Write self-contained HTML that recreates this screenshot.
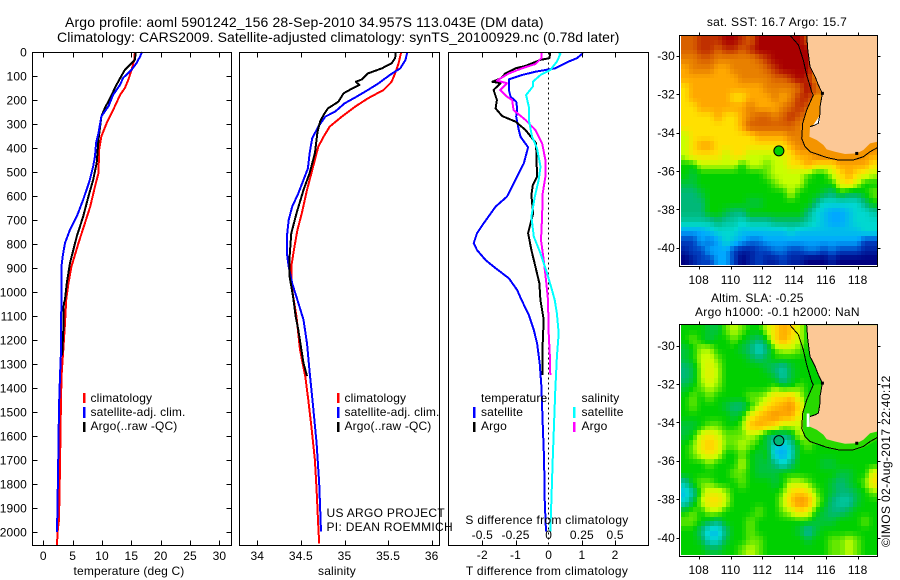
<!DOCTYPE html>
<html lang="en">
<head>
<meta charset="utf-8">
<title>Argo profile 5901242_156</title>
<style>
html,body{margin:0;padding:0;background:#fff;}
svg{display:block;}
text{font-family:"Liberation Sans",Arial,sans-serif;font-size:12px;fill:#000;letter-spacing:0.15px;}
.title{font-size:14px;letter-spacing:0.14px;}
.title2{font-size:14px;letter-spacing:0.08px;}
.wide{letter-spacing:0.3px;}
.wider{letter-spacing:0.36px;}
</style>
</head>
<body>
<svg id="chart" xmlns="http://www.w3.org/2000/svg" width="900" height="580" viewBox="0 0 900 580">
<rect x="0" y="0" width="900" height="580" fill="#fff"/>
<text class="title" x="65" y="27">Argo profile: aoml 5901242_156 28-Sep-2010 34.957S 113.043E (DM data)</text>
<text class="title2" x="57" y="42">Climatology: CARS2009. Satellite-adjusted climatology: synTS_20100929.nc (0.78d later)</text>

<g id="layer-series"></g>
<g id="layer-maps"></g>

<text x="129" y="575" text-anchor="middle">temperature (deg C)</text>
<text x="337" y="575" text-anchor="middle">salinity</text>
<text class="wide" x="547" y="575" text-anchor="middle">T difference from climatology</text>
<text class="wide" x="547" y="524" text-anchor="middle">S difference from climatology</text>

<g>
<rect x="83" y="393" width="2.5" height="10" fill="#f00"/>
<rect x="83" y="407" width="2.5" height="11" fill="#00f"/>
<rect x="83" y="422" width="2.5" height="10" fill="#000"/>
<text x="90.5" y="402">climatology</text>
<text x="90.5" y="416">satellite-adj. clim.</text>
<text x="90.5" y="430">Argo(..raw -QC)</text>
</g>
<g>
<rect x="337" y="393" width="2.5" height="10" fill="#f00"/>
<rect x="337" y="407" width="2.5" height="11" fill="#00f"/>
<rect x="337" y="422" width="2.5" height="10" fill="#000"/>
<text x="344.5" y="402">climatology</text>
<text x="344.5" y="416">satellite-adj. clim.</text>
<text x="344.5" y="430">Argo(..raw -QC)</text>
</g>
<g>
<text x="481" y="402">temperature</text>
<rect x="473" y="407" width="2.5" height="11" fill="#00f"/>
<text x="481" y="416">satellite</text>
<rect x="473" y="422" width="2.5" height="10" fill="#000"/>
<text x="481" y="430">Argo</text>
<text x="581.5" y="402">salinity</text>
<rect x="573" y="407" width="2.5" height="11" fill="#0ff"/>
<text x="581.5" y="416">satellite</text>
<rect x="573" y="422" width="2.5" height="10" fill="#f0f"/>
<text x="581.5" y="430">Argo</text>
</g>
<text class="wide" x="326.5" y="517">US ARGO PROJECT</text>
<text class="wide" x="326.5" y="531">PI: DEAN ROEMMICH</text>

<text class="wide" x="777" y="26" text-anchor="middle">sat. SST: 16.7 Argo: 15.7</text>
<text x="711" y="302">Altim. SLA: -0.25</text>
<text class="wide" x="695" y="316">Argo h1000: -0.1 h2000: NaN</text>
<text class="wider" transform="translate(890,547) rotate(-90)">©IMOS 02-Aug-2017 22:40:12</text>
</svg>

<script>
// ---- profile data (depth in m, temperature in deg C, salinity in psu) ----
const tempClimDepth = [0,32,74,115,150,178,226,296,351,407,504,560,643,712,796,893,962,1032,1130,1240,1350,1547,1728,1950,2005,2055];
const tempClimValue = [15.6,15.5,15.05,14.5,13.9,13.1,12.2,10.8,9.9,9.5,9.4,8.8,8.0,7.1,6.0,4.8,4.3,3.9,3.7,3.4,3.1,2.95,2.85,2.67,2.4,2.35];
const tempSatDepth = [0,18,46,74,108,136,178,226,268,337,379,435,476,539,615,685,740,796,851,893,1032,1060,1255,1350,1478,1686,1908,2000];
const tempSatValue = [16.8,16.5,15.9,15.05,13.6,13.1,11.9,11.1,9.9,9.4,9.0,8.8,8.5,7.85,6.8,5.7,4.55,3.7,3.3,3.1,3.1,3.07,3.0,2.85,2.67,2.55,2.4,2.33];
const tempArgoDepth = [0,32,46,74,122,150,192,233,268,365,462,532,601,685,768,879,962,1032,1047,1158,1265];
const tempArgoValue = [15.75,15.6,15.05,13.9,12.8,12.2,11.4,10.5,9.9,9.4,9.1,8.5,7.7,6.8,5.7,4.55,4.0,3.7,3.5,3.4,3.2];

const salClimDepth = [0,47,89,124,158,193,228,269,311,353,394,478,575,672,742,825,894,964,1033,1102,1241,1352,1450,1561,1700,1825,1977,2047];
const salClimValue = [35.65,35.62,35.58,35.54,35.45,35.27,35.12,34.97,34.83,34.76,34.70,34.64,34.57,34.51,34.46,34.42,34.39,34.39,34.417,34.45,34.49,34.55,34.585,34.62,34.66,34.68,34.70,34.71];
const salSatDepth = [0,33,68,96,131,158,186,214,249,269,311,360,422,485,533,589,644,700,769,839,894,964,1033,1116,1214,1332,1477,1630,1797,1998];
const salSatValue = [35.72,35.70,35.64,35.52,35.39,35.27,35.14,35.0,34.89,34.78,34.70,34.63,34.60,34.58,34.53,34.47,34.40,34.36,34.34,34.34,34.36,34.40,34.46,34.53,34.57,34.60,34.64,34.68,34.71,34.73];
const salArgoDepth = [0,26,47,68,89,114,124,138,158,172,207,235,262,290,332,422,505,575,672,755,853,936,1019,1103,1158,1297,1350];
const salArgoValue = [35.59,35.58,35.54,35.43,35.27,35.20,35.13,35.17,35.06,34.99,34.93,34.81,34.76,34.72,34.69,34.66,34.60,34.53,34.45,34.39,34.37,34.37,34.41,34.44,34.47,34.53,34.57];

const dTempSatDepth = [5,26,40,68,82,96,114,158,186,207,235,269,325,353,397,464,533,603,644,714,755,797,825,867,901,943,992,1033,1095,1158,1214,1297,1394,1547,1700,1866,1998];
const dTempSatValue = [1.03,0.85,0.6,0.2,-0.4,-0.8,-1.2,-1.2,-1.15,-0.98,-0.95,-0.98,-0.9,-0.85,-0.62,-0.75,-1.0,-1.26,-1.6,-1.96,-2.16,-2.26,-2.16,-1.9,-1.6,-1.2,-0.95,-0.82,-0.6,-0.45,-0.35,-0.27,-0.22,-0.18,-0.14,-0.12,-0.08];
const dTempArgoDepth = [0,26,33,58,68,89,110,124,130,158,200,235,267,290,325,380,436,519,554,596,672,755,825,894,964,1033,1116,1214,1345];
const dTempArgoValue = [0.05,0.02,-0.25,-0.7,-1.0,-1.3,-1.45,-1.7,-1.45,-1.66,-1.56,-1.6,-1.4,-1.0,-0.7,-0.38,-0.37,-0.35,-0.48,-0.52,-0.47,-0.62,-0.52,-0.4,-0.28,-0.25,-0.15,-0.18,-0.18];
const dSalSatDepth = [5,8,40,75,96,124,144,179,228,283,353,401,478,533,603,686,769,839,922,992,1033,1089,1172,1269,1408,1588,1700,1866,1998];
const dSalSatValue = [0.075,0.088,0.062,0.012,-0.062,-0.12,-0.12,-0.17,-0.15,-0.15,-0.125,-0.088,-0.062,-0.075,-0.105,-0.13,-0.112,-0.062,-0.012,0.025,0.045,0.062,0.075,0.062,0.05,0.038,0.03,0.02,0.012];
const dSalArgoDepth = [0,26,50,68,89,119,130,158,186,200,242,283,325,380,450,519,589,686,783,867,950,1033,1172,1262,1345];
const dSalArgoValue = [-0.055,-0.055,-0.1,-0.2,-0.3,-0.39,-0.315,-0.365,-0.315,-0.275,-0.265,-0.175,-0.1,-0.05,-0.025,-0.025,-0.045,-0.05,-0.058,-0.038,-0.02,-0.005,0,0.008,0.012];

// ---- axis tick labels ----
const depthTicks = [0,100,200,300,400,500,600,700,800,900,1000,1100,1200,1300,1400,1500,1600,1700,1800,1900,2000];
const tempTicks = [0,5,10,15,20,25,30];
const salTicks = [34,34.5,35,35.5,36];
const tDiffTicks = [-2,-1,0,1,2];
const sDiffTicks = [-0.5,-0.25,0,0.25,0.5];
const lonTicks = [108,110,112,114,116,118];
const latTicks = [-30,-32,-34,-36,-38,-40];

// ---- map grids: colour level per cell, north to south, west to east ----
const sstGrid = [
[10,10,11,11,11,12,12,11,10,12,12,12,12,12,12,10,9,9,9,9,9,9,9,9],
[10,10,11,11,10,11,11,10,11,12,12,12,12,12,12,12,9,9,9,9,9,9,9,9],
[9,9,10,10,9,9,9,9,9,10,11,12,12,12,12,12,9,9,9,9,9,9,9,9],
[8,9,9,9,8,8,9,9,9,9,10,11,12,12,12,12,9,9,9,9,9,9,9,9],
[8,8,8,8,8,8,8,9,9,9,9,10,10,11,12,11,9,9,9,9,9,9,9,9],
[7,8,8,8,8,8,8,8,8,8,9,9,9,9,10,12,10,9,9,9,9,9,9,9],
[7,8,8,8,8,8,7,7,8,8,8,9,8,9,11,11,9,9,9,9,9,9,9,9],
[7,7,8,8,8,8,8,8,9,8,8,8,9,10,11,10,9,9,9,9,9,9,9,9],
[7,7,7,7,8,7,7,8,9,10,10,9,10,11,10,9,8,8,8,8,8,8,8,8],
[7,7,7,7,7,7,7,8,10,10,10,10,10,10,9,8,8,8,8,8,8,8,8,8],
[6,7,7,7,7,7,7,7,7,8,8,8,8,9,9,9,9,9,9,9,9,9,9,9],
[6,7,8,8,7,7,7,7,7,7,7,7,7,8,9,9,9,9,9,9,9,9,9,9],
[6,7,7,7,7,6,7,7,6,6,6,6,6.5,7,8,8,9,9,9,9,9,9,8.5,8],
[5,5,6,6,6,6,6,5,6,6,5.5,6,6,7,7,8,7,7,7,8,8,8,8,7],
[5,4.5,5,5,5,5,5,5,5,5,5.5,6,6,6,6,5.5,5,5,6,7,8,7,6.5,6],
[4.5,4.5,5,5,5,5,5,5,5,5,5,5.5,6,6,6,5,5,5,5,6.5,7,6,5,5],
[4,4,4.5,5,5,5,5,5,5,5,5,5,5,6,5,5,5,4.5,4,5,4.5,4.5,5,5.5],
[4,4,4,5,5,5,5,5,4.5,4.5,5,5,5,5,5,5,4,3,3,3,3,3,4,5],
[4,4,4,5,5,4.5,4,4,5,5,5,5,5,5,5,4,3,2.5,2,2,2.5,3,3,3.5],
[3.5,3.5,3.5,3.5,4,3.5,3.5,3,3.5,3.5,3.5,4,4,4,4,3.5,3,2.5,2,2,2.5,3,3,3],
[2,2,2,2.5,3,3,3,2.5,2.5,2.5,2.5,2.5,2.5,3,2.5,2.5,2.5,2.5,2.5,2.5,2.5,2.5,3,3],
[1,1,2,1.5,2,3,2.5,2,1.5,1.5,2,2,2,2,2,2,2,2,2,2,2,2,1,1],
[0.5,1,1,2,2,2,1,0.5,0.5,1,1,1.5,1.5,1,1,1.5,1.5,1,1.5,1,1,1,0.5,0.5],
[0,0.5,1,1,2,2,1,0,0.5,1,0.5,0.5,1,0.5,0.5,0,0,0,0.5,0,0,0,0,0]
];
const slaGrid = [
[5,5,5,4.5,4.5,5.5,6,5.5,5,5,6,7,8,7.5,6,5,5,5,5,5,5,5,5,5],
[5,5.5,5,4.5,5,5,5.5,5,4.5,4,5,7,8,7,6,5,5,5,5,5,5,5,5,5],
[4.5,5,5.8,5.8,5,5,5,4.5,4,3,4,5.5,6,6,5.5,5,5,5,5,5,5,5,5,5],
[4.5,5,6,6.2,5.5,5,5,5,4.5,4,4.5,5,5,5,5,5,5,5,5,5,5,5,5,5],
[4,4.5,5.8,6.5,5.8,5,5,5,5,5,4.5,4,3.5,4.5,5,5,5,5,5,5,5,5,5,5],
[4,4.5,5.8,6.5,5.8,5,5,5,5,5,5,4.5,3.5,4.5,5,5,5,5,5,5,5,5,5,5],
[4.5,5,5.5,6,5.6,5,5,5,5,5,5,5.5,5,5,5.5,5,5,5,5,5,5,5,5,5],
[5,5.5,5,5.5,5,5,5,5,5.5,5.5,6,7,7,7.5,6,5,5,5,5,5,5,5,5,5],
[5,5.5,5,5,5,4.5,4,4,5,6,7,7.5,8,8.5,7,5,5,5,5,5,5,5,5,5],
[5,5,5,5,5,5,4.5,5,6.5,7.5,8,8.5,8,8,6.5,5,5,5,5,5,5,5,5,5],
[4.5,4.5,5,5.5,5.5,5,5,5.5,7.5,8,7.5,7,6,6,6,5.5,5,5,5,5,5,5,5,5],
[4.5,5,6.2,6.8,6.2,5.5,5.5,5.5,6,5.5,4.5,4,4,4.5,6,5.5,5.5,5,5,5,5,5,5,5],
[5,5.5,6.8,7.5,6.8,5.5,5.5,6,5.5,5,4.5,3,2.5,3.5,5,5.5,5,5,5,5,5,5,5,5],
[5,5.5,6.2,6.8,6.2,5,5,5.5,5,4.5,5,2.5,2,3,5,5,5,5,5,5,5,5,5,5],
[5,5,5,5.5,5,5,5,6,5,4.5,4.5,4,3,4,5,5,5,4.5,4.5,5,5,5,5,5],
[5,5,5,5,5,5,5.5,5.5,5,4.5,4.5,4.5,5,5,5,5,5,5,5,4.5,4.5,5,5,6.5],
[3.5,5,5.5,5.5,5,5,5,5.5,5,5,5,4.5,5,6,6,5.5,5,5,4.5,4,4.5,5,5.5,7],
[2.5,3.5,5.5,6.5,6.5,5.8,5,5,5,5,5,5,5.5,7,7.5,7,5.5,5,4.5,4,4,4.5,5,5.5],
[3,4.5,5.8,7,7,6,5,5,5,5,5,5,6,7.5,8.5,8,6,5,4,3.5,3.5,4.5,5,5],
[5,5.5,5,5.8,5.8,5,5,5,5,5.5,5,5,5.5,6,7,6.5,5,4.5,4,4,4.5,5,5,5],
[5.5,5.5,5,4.5,4,5,5,5,5.5,5,5,5,5,5,5,5,4.5,4.5,4.5,5,5,5,5.5,5],
[5,5,4,2.5,2.5,4,5,5,5.5,5,5,5,5,5,4.5,3.5,4.5,5,5,5,5,5,5,5],
[5,5,4.5,3,3,4.5,5,5,5.5,5.5,5,5,5,5,5,4.5,5,5,5.5,5.5,6,5.5,5,5],
[5,5,5,4.5,4.5,5,5,5.5,6,5.5,5,5,5,5,5,5,5,5,5.5,5.5,6,5.5,5,5]
];
const levelColors = ["#000080","#0040c0","#00a8ff","#00d8d0","#00b878","#00d000","#c8ff00","#ffe000","#ffa800","#e88000","#d86000","#c03000","#a80000"];

// ---- geography (lon, lat) ----
const landLon = [114.79,114.86,115.0,115.32,115.53,115.78,115.63,115.63,115.53,115.32,115.0,114.96,115.42,115.84,116.05,116.57,117.2,117.94,118.36,118.78,119.23,119.23];
const landLat = [-28.94,-29.70,-30.57,-31.09,-31.53,-31.96,-32.66,-33.0,-33.52,-33.61,-33.70,-34.22,-34.39,-34.65,-34.88,-35.0,-35.12,-35.09,-34.91,-34.57,-34.48,-28.94];
const contourLon = [113.74,114.27,114.58,114.79,115.11,115.21,114.79,114.54,114.48,114.69,115.0,116.05,116.78,117.73,118.36,118.78,119.23];
const contourLat = [-28.94,-29.44,-30.23,-31.01,-31.88,-32.05,-32.83,-33.52,-34.31,-34.74,-35.0,-35.30,-35.43,-35.43,-35.26,-35.0,-34.79];
const bandLon = [115.21,114.79,114.58,114.55,114.69,115.0,116.05,116.78,117.73,118.36,119.23,119.23,116,115.8];
const bandLat = [-32.05,-32.83,-33.52,-34.31,-34.74,-35.0,-35.34,-35.48,-35.48,-35.34,-34.92,-34.4,-33,-32];
const sstPatchLon = [115.63,115.63,115.48,115.21,115.42];
const sstPatchLat = [-33.09,-33.44,-33.61,-33.61,-33.35];
const slaPatchLon = [114.79,114.96,114.96,114.79];
const slaPatchLat = [-33.54,-33.54,-34.24,-34.24];
const speckLon = [115.78,117.94];
const speckLat = [-31.96,-35.09];
const westCoastCount = 11;
const argoLon = 113.043;
const argoLat = -34.957;

const NS = "http://www.w3.org/2000/svg";
const seriesLayer = document.getElementById("layer-series");
const mapLayer = document.getElementById("layer-maps");

function mk(tag, attrs, parent) {
  const n = document.createElementNS(NS, tag);
  for (const k in attrs) n.setAttribute(k, attrs[k]);
  parent.appendChild(n);
  return n;
}

// ---- axis functions ----
const yDepth = d => 52 + d * 0.24;
const xTemp = t => 43.3 + t * 5.87;
const xSal = s => 257.3 + (s - 34) * 87.2;
const xTDiff = t => 548.7 + t * 33.2;
const xSDiff = s => 548.7 + s * 4 * 33.2;

const lonScale = 15.9;
const latScale = 19.2;
const xLon = lon => 698.7 + (lon - 108) * lonScale;
const sstY = lat => 55.7 + (-30 - lat) * latScale;
const slaY = lat => 345.5 + (-30 - lat) * latScale;

function drawProfile(xs, ys, xFn, color, parent) {
  const pts = xs.map((v, i) => xFn(v).toFixed(1) + "," + yDepth(ys[i]).toFixed(1)).join(" ");
  return mk("polyline", {points: pts, fill: "none", stroke: color, "stroke-width": 2, "stroke-linejoin": "round", "shape-rendering": "crispEdges"}, parent);
}

function panelFrame(left, right, top, bottom, parent) {
  return mk("rect", {x: left, y: top, width: right - left, height: bottom - top, fill: "none", stroke: "#000", "stroke-width": 1, "shape-rendering": "crispEdges"}, parent);
}

function tickLine(x1, y1, x2, y2, parent) {
  return mk("line", {x1: x1, y1: y1, x2: x2, y2: y2, stroke: "#000", "stroke-width": 1, "shape-rendering": "crispEdges"}, parent);
}

function addLabel(x, y, anchor, str, parent) {
  const t = mk("text", {x: x, y: y, "text-anchor": anchor}, parent);
  t.textContent = str;
  return t;
}

// ---- profile panels ----
const TOP = 52.5, BOT = 545.5;

// Temperature panel
const tempPanel = mk("g", {}, seriesLayer);


const climT = drawProfile(tempClimValue, tempClimDepth, xTemp, "#f00", tempPanel);


const argoT = drawProfile(tempArgoValue, tempArgoDepth, xTemp, "#000", tempPanel);


const satT = drawProfile(tempSatValue, tempSatDepth, xTemp, "#00f", tempPanel);


const frameT = panelFrame(32.5, 231.5, TOP, BOT, tempPanel);


depthTicks.forEach(d => {
  const y = Math.round(yDepth(d)) + 0.5;
  const lt = tickLine(32.5, y, 37.5, y, tempPanel);
  
  
  const rt = tickLine(226.5, y, 231.5, y, tempPanel);
  
  
  const lab = addLabel(27, yDepth(d) + 4.5, "end", String(d), tempPanel);
  
  
});
tempTicks.forEach(t => {
  const x = Math.round(xTemp(t)) + 0.5;
  const tp = tickLine(x, TOP, x, TOP + 5, tempPanel);
  
  
  const bt = tickLine(x, BOT - 5, x, BOT, tempPanel);
  
  
  const lab = addLabel(xTemp(t), 560, "middle", String(t), tempPanel);
  
  
});

// Salinity panel
const salPanel = mk("g", {}, seriesLayer);


const climS = drawProfile(salClimValue, salClimDepth, xSal, "#f00", salPanel);


const satS = drawProfile(salSatValue, salSatDepth, xSal, "#00f", salPanel);


const argoS = drawProfile(salArgoValue, salArgoDepth, xSal, "#000", salPanel);


const frameS = panelFrame(239.5, 439.5, TOP, BOT, salPanel);


salTicks.forEach(s => {
  const x = Math.round(xSal(s)) + 0.5;
  const tp = tickLine(x, TOP, x, TOP + 5, salPanel);
  
  
  const bt = tickLine(x, BOT - 5, x, BOT, salPanel);
  
  
  const lab = addLabel(xSal(s), 560, "middle", String(s), salPanel);
  
  
});

// Difference panel
const diffPanel = mk("g", {}, seriesLayer);


const zeroLine = mk("line", {x1: 548.5, y1: TOP, x2: 548.5, y2: BOT, stroke: "#000", "stroke-width": 1, "stroke-dasharray": "2 3", "shape-rendering": "crispEdges"}, diffPanel);


const satDT = drawProfile(dTempSatValue, dTempSatDepth, xTDiff, "#00f", diffPanel);


const argoDT = drawProfile(dTempArgoValue, dTempArgoDepth, xTDiff, "#000", diffPanel);


const argoDS = drawProfile(dSalArgoValue, dSalArgoDepth, xSDiff, "#f0f", diffPanel);


const satDS = drawProfile(dSalSatValue, dSalSatDepth, xSDiff, "#0ff", diffPanel);


const frameD = panelFrame(448.5, 648.5, TOP, BOT, diffPanel);


tDiffTicks.forEach(t => {
  const x = Math.round(xTDiff(t)) + 0.5;
  if (t !== 0) {
    const tp = tickLine(x, TOP, x, TOP + 5, diffPanel);
    
    
    const bt = tickLine(x, BOT - 5, x, BOT, diffPanel);
    
    
  }
  const lab = addLabel(xTDiff(t), 559, "middle", String(t), diffPanel);
  
  
});
sDiffTicks.forEach(s => {
  const lab = addLabel(xSDiff(s), 539, "middle", String(s), diffPanel);
  
  
});

// ---- maps ----
function levelColor(v) {
  const c = Math.max(0, Math.min(levelColors.length - 1, v));
  const i = Math.min(levelColors.length - 2, Math.floor(c));
  const f = c - i;
  const a = levelColors[i], b = levelColors[i + 1];
  const mix = s => Math.round(parseInt(a.substr(s, 2), 16) * (1 - f) + parseInt(b.substr(s, 2), 16) * f);
  return "rgb(" + mix(1) + "," + mix(3) + "," + mix(5) + ")";
}

const lonWest = 106.88, lonEast = 119.23, latNorth = -28.94, latSouth = -40.9;
const SUB = 2;

function sampleGrid(grid, r, c) {
  const rows = grid.length, cols = grid[0].length;
  const rr = Math.max(0, Math.min(rows - 1, r)), cc = Math.max(0, Math.min(cols - 1, c));
  const r0 = Math.floor(rr), c0 = Math.floor(cc);
  const r1 = Math.min(rows - 1, r0 + 1), c1 = Math.min(cols - 1, c0 + 1);
  const fr = rr - r0, fc = cc - c0;
  return (grid[r0][c0] * (1 - fc) + grid[r0][c1] * fc) * (1 - fr) + (grid[r1][c0] * (1 - fc) + grid[r1][c1] * fc) * fr;
}

function pathFrom(lons, lats, yFn) {
  return lons.map((v, i) => xLon(v).toFixed(1) + "," + yFn(lats[i]).toFixed(1)).join(" ");
}

function drawMap(prefix, grid, yFn, bandLevel, markerLevel, frameTop, frameBottom, labelY, patchLon, patchLat) {
  const g = mk("g", {}, mapLayer);
  
  
  const rows = grid.length * SUB, cols = grid[0].length * SUB;
  const dLon = (lonEast - lonWest) / cols, dLat = (latNorth - latSouth) / rows;
  const cells = mk("g", {"shape-rendering": "crispEdges"}, g);
  
  
  for (let r = 0; r < rows; r++) {
    for (let c = 0; c < cols; c++) {
      const v = sampleGrid(grid, (r + 0.5) / SUB - 0.5, (c + 0.5) / SUB - 0.5);
      const x0 = Math.round(xLon(lonWest + c * dLon)), x1 = Math.round(xLon(lonWest + (c + 1) * dLon));
      const y0 = Math.round(yFn(latNorth - r * dLat)), y1 = Math.round(yFn(latNorth - (r + 1) * dLat));
      const cell = mk("rect", {x: x0, y: y0, width: x1 - x0, height: y1 - y0, fill: levelColor(v)}, cells);
      
      
    }
  }
  const band = mk("polygon", {points: pathFrom(bandLon, bandLat, yFn), fill: levelColor(bandLevel)}, g);
  
  
  const land = mk("polygon", {points: pathFrom(landLon, landLat, yFn), fill: "#fcc896", stroke: "none"}, g);
  
  
  const patch = mk("polygon", {points: pathFrom(patchLon, patchLat, yFn), fill: "#fff"}, g);
  
  
  const coast = mk("polyline", {points: pathFrom(landLon.slice(0, westCoastCount), landLat.slice(0, westCoastCount), yFn), fill: "none", stroke: "#000", "stroke-width": 1, "shape-rendering": "crispEdges"}, g);
  
  
  speckLon.forEach((lon, i) => {
    const sp = mk("rect", {x: xLon(lon) - 1.5, y: yFn(speckLat[i]) - 1.5, width: 3, height: 3, fill: "#000"}, g);
    
    
  });
  const contour = mk("polyline", {points: pathFrom(contourLon, contourLat, yFn), fill: "none", stroke: "#000", "stroke-width": 1, "shape-rendering": "crispEdges"}, g);
  
  
  const marker = mk("circle", {cx: xLon(argoLon), cy: yFn(argoLat), r: 5, fill: levelColor(markerLevel), stroke: "#000", "stroke-width": 1}, g);
  
  
  const frame = panelFrame(679.5, 877.5, frameTop, frameBottom, g);
  
  
  lonTicks.forEach(lon => {
    const x = Math.round(xLon(lon)) + 0.5;
    const tp = tickLine(x, frameTop - 3, x, frameTop, g);
    
    
    const bt = tickLine(x, frameBottom, x, frameBottom + 3, g);
    
    
    const lab = addLabel(xLon(lon), labelY, "middle", String(lon), g);
    
    
  });
  latTicks.forEach(lat => {
    const y = Math.round(yFn(lat)) + 0.5;
    const lt = tickLine(676.5, y, 679.5, y, g);
    
    
    const rt = tickLine(877.5, y, 880.5, y, g);
    
    
    const lab = addLabel(675, yFn(lat) + 4.5, "end", String(lat), g);
    
    
  });
}

drawMap("sst", sstGrid, sstY, 8.5, 5, 35.5, 266.5, 284, sstPatchLon, sstPatchLat);
drawMap("sla", slaGrid, slaY, 5.2, 4, 324.5, 556.5, 574, slaPatchLon, slaPatchLat);
</script>
</body>
</html>
